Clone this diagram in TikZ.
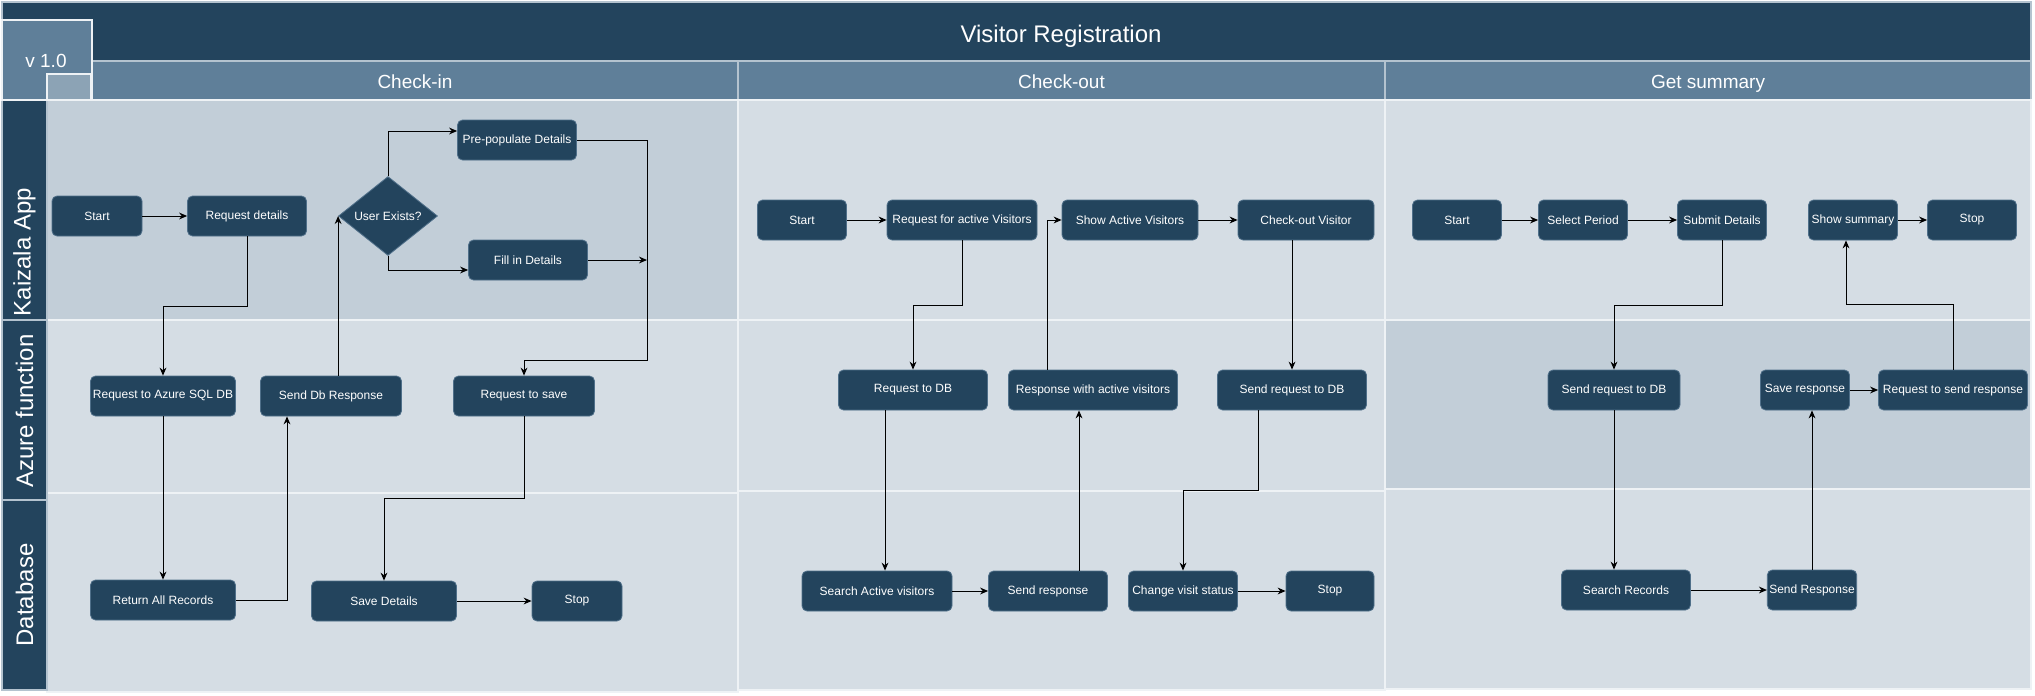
\documentclass[tikz,border=0pt]{standalone}
\usepackage{fontspec}
\setmainfont{Liberation Sans}
\usepackage{xcolor}
\usepackage{tikz}
\usetikzlibrary{arrows.meta, positioning, calc, shapes.geometric}

\definecolor{titlebg}{HTML}{23445D}
\definecolor{headbg}{HTML}{5F7F99}
\definecolor{cornerbg}{HTML}{8CA3B5}
\definecolor{lanebg}{HTML}{D5DDE4}
\definecolor{lanedark}{HTML}{C2CED8}
\definecolor{laneline}{HTML}{EEF2F5}
\definecolor{poolline}{HTML}{B4C3CF}
\definecolor{nodebg}{HTML}{23445D}
\definecolor{nodeedge}{HTML}{4F6F89}

\begin{document}
\begin{tikzpicture}[
    x=0.5pt, y=-0.5pt,
    pool/.style={draw=poolline, line width=0.6pt},
    lane/.style={draw=laneline, line width=1pt, fill=lanebg},
    header/.style={text=white, text height=7pt, text depth=2pt, font=\fontsize{9.5}{11}\selectfont},
    lanelabel/.style={text=white, rotate=90, font=\fontsize{12}{14}\selectfont},
    task/.style={rectangle, draw=nodeedge, fill=nodebg, rounded corners=2.5pt, minimum height=20pt, inner xsep=1pt, align=center, text=white, font=\fontsize{6}{7}\selectfont},
    decision/.style={diamond, draw=nodeedge, fill=nodebg, minimum width=49.5pt, minimum height=39.5pt, inner sep=0pt, align=center, text=white, font=\fontsize{6}{7}\selectfont},
    arrow/.style={-{Stealth[length=4pt,width=3.4pt]}, line width=0.5pt, color=black}
]
    \useasboundingbox (0,0) rectangle (2035,696);
    \fill[white] (0,0) rectangle (2035,696);

    % --- Pool ---
    \filldraw[pool, fill=titlebg] (2,2) rectangle (2031,61);
    \node[text=white, font=\fontsize{12}{14}\selectfont] (title) at (1061,36) {Visitor Registration};

    % Phase headers
    \filldraw[pool, fill=headbg] (92,61) rectangle (738,100);
    \filldraw[pool, fill=headbg] (738,61) rectangle (1385,100);
    \filldraw[pool, fill=headbg] (1385,61) rectangle (2031,100);
    \node[header] (h-checkin) at (415,83) {Check-in};
    \node[header] (h-checkout) at (1061.5,83) {Check-out};
    \node[header] (h-summary) at (1708,83) {Get summary};

    % Lanes
    \filldraw[lane, fill=lanedark] (47,100) rectangle (738,320);
    \filldraw[lane] (47,320) rectangle (738,493);
    \filldraw[lane] (47,493) rectangle (738,692);
    \filldraw[lane] (738,100) rectangle (1385,320);
    \filldraw[lane] (738,320) rectangle (1385,491);
    \filldraw[lane] (738,491) rectangle (1385,690);
    \filldraw[lane] (1385,100) rectangle (2031,320);
    \filldraw[lane, fill=lanedark] (1385,320) rectangle (2031,489);
    \filldraw[lane] (1385,489) rectangle (2031,689);

    % Lane labels
    \filldraw[pool, fill=titlebg] (2,100) rectangle (47,320);
    \filldraw[pool, fill=titlebg] (2,320) rectangle (47,500);
    \filldraw[pool, fill=titlebg] (2,500) rectangle (47,690);
    \node[lanelabel] (l-app) at (24.5,252) {Kaizala App};
    \node[lanelabel] (l-func) at (24.5,411) {Azure function};
    \node[lanelabel] (l-db) at (24.5,595) {Database};

    % Version corner
    \filldraw[draw=laneline, line width=0.8pt, fill=headbg] (2,20) rectangle (92,100);
    \filldraw[draw=laneline, line width=0.8pt, fill=cornerbg] (47,74) rectangle (91,100);
    \node[header] (version) at (46,62) {v 1.0};

    % --- Check-in ---
    \node[task, minimum width=45pt] (ci-start) at (97,216) {Start};
    \node[task, minimum width=59.5pt] (ci-req) at (247,216) {Request details};
    \node[decision] (ci-exists) at (388,216) {User Exists?};
    \node[task, minimum width=59.5pt] (ci-prepop) at (517,140) {Pre-populate Details};
    \node[task, minimum width=59.5pt] (ci-fill) at (528,260) {Fill in Details};
    \node[task, minimum width=72.5pt] (ci-sqlreq) at (163,396) {Request to Azure SQL DB};
    \node[task, minimum width=70.5pt] (ci-dbresp) at (331,396) {Send Db Response};
    \node[task, minimum width=70.5pt] (ci-savereq) at (524,396) {Request to save};
    \node[task, minimum width=72.5pt] (ci-records) at (163,600) {Return All Records};
    \node[task, minimum width=72.5pt] (ci-save) at (384,601) {Save Details};
    \node[task, minimum width=45pt] (ci-stop) at (577,601) {Stop};

    % --- Check-out ---
    \node[task, minimum width=44.5pt] (co-start) at (802,220) {Start};
    \node[task, minimum width=75pt] (co-req) at (962,220) {Request for active Visitors};
    \node[task, minimum width=68pt] (co-show) at (1130,220) {Show Active Visitors};
    \node[task, minimum width=68pt] (co-checkout) at (1306,220) {Check-out Visitor};
    \node[task, minimum width=74.5pt] (co-dbreq) at (913,390) {Request to DB};
    \node[task, minimum width=84.5pt] (co-resp) at (1093,390) {Response with active visitors};
    \node[task, minimum width=74.5pt] (co-sendreq) at (1292,390) {Send request to DB};
    \node[task, minimum width=75pt] (co-search) at (877,591) {Search Active visitors};
    \node[task, minimum width=59.5pt] (co-sendresp) at (1048,591) {Send response};
    \node[task, minimum width=54.5pt] (co-status) at (1183,591) {Change visit status};
    \node[task, minimum width=44pt] (co-stop) at (1330,591) {Stop};

    % --- Get summary ---
    \node[task, minimum width=44.5pt] (gs-start) at (1457,220) {Start};
    \node[task, minimum width=44.5pt] (gs-period) at (1583,220) {Select Period};
    \node[task, minimum width=44.5pt] (gs-submit) at (1722,220) {Submit Details};
    \node[task, minimum width=44.5pt] (gs-show) at (1853,220) {Show summary};
    \node[task, minimum width=44.5pt] (gs-stop) at (1972,220) {Stop};
    \node[task, minimum width=66pt] (gs-dbreq) at (1614,390) {Send request to DB};
    \node[task, minimum width=44.5pt] (gs-save) at (1805,390) {Save response};
    \node[task, minimum width=74.5pt] (gs-sendreq) at (1953,390) {Request to send response};
    \node[task, minimum width=64.5pt] (gs-search) at (1626,590) {Search Records};
    \node[task, minimum width=44.5pt] (gs-sendresp) at (1812,590) {Send Response};

    % --- Connections ---

    % Check-in
    \coordinate (ci-join) at (647,360);
    \draw[arrow] (ci-start) -- (ci-req);
    \draw[arrow] (ci-exists.north) |- ([yshift=4.5pt]ci-prepop.west);
    \draw[arrow] (ci-exists.south) |- ([yshift=-5pt]ci-fill.west);
    \draw[arrow] (ci-prepop.east) -| (ci-join) -| (ci-savereq.north);
    \draw[arrow] (ci-fill.east) -- (ci-fill.east -| ci-join);
    \draw[arrow] (ci-req.south) -- ++(0,70) -| (ci-sqlreq.north);
    \draw[arrow] (ci-sqlreq) -- (ci-records);
    \draw[arrow] (ci-records.east) -| ([xshift=-22pt]ci-dbresp.south);
    \draw[arrow] (ci-dbresp.north -| ci-exists.west) -- (ci-exists.west);
    \draw[arrow] (ci-savereq.south) -- ++(0,82) -| (ci-save.north);
    \draw[arrow] (ci-save) -- (ci-stop);

    % Check-out
    \draw[arrow] (co-start) -- (co-req);
    \draw[arrow] (co-req.south) -- ++(0,65) -| (co-dbreq.north);
    \draw[arrow] ([xshift=4pt]co-search.north |- co-dbreq.south) -- ([xshift=4pt]co-search.north);
    \draw[arrow] (co-search) -- (co-sendresp);
    \draw[arrow] ([xshift=15.5pt]co-sendresp.north) -- ([xshift=15.5pt]co-sendresp.north |- co-resp.south);
    \draw[arrow] ([xshift=-23pt]co-resp.north) |- (co-show.west);
    \draw[arrow] (co-show) -- (co-checkout);
    \draw[arrow] (co-sendreq.north |- co-checkout.south) -- (co-sendreq.north);
    \draw[arrow] ([xshift=-17pt]co-sendreq.south) -- ++(0,80) -| (co-status.north);
    \draw[arrow] (co-status) -- (co-stop);

    % Get summary
    \draw[arrow] (gs-start) -- (gs-period);
    \draw[arrow] (gs-period) -- (gs-submit);
    \draw[arrow] (gs-submit.south) -- ++(0,65) -| (gs-dbreq.north);
    \draw[arrow] (gs-dbreq.south) -- (gs-dbreq.south |- gs-search.north);
    \draw[arrow] (gs-search) -- (gs-sendresp);
    \draw[arrow] (gs-sendresp.north) -- (gs-sendresp.north |- gs-save.south);
    \draw[arrow] (gs-save) -- (gs-sendreq);
    \draw[arrow] (gs-sendreq.north) -- ++(0,-65) -| ([xshift=-3.5pt]gs-show.south);
    \draw[arrow] (gs-show) -- (gs-stop);

\end{tikzpicture}
\end{document}
